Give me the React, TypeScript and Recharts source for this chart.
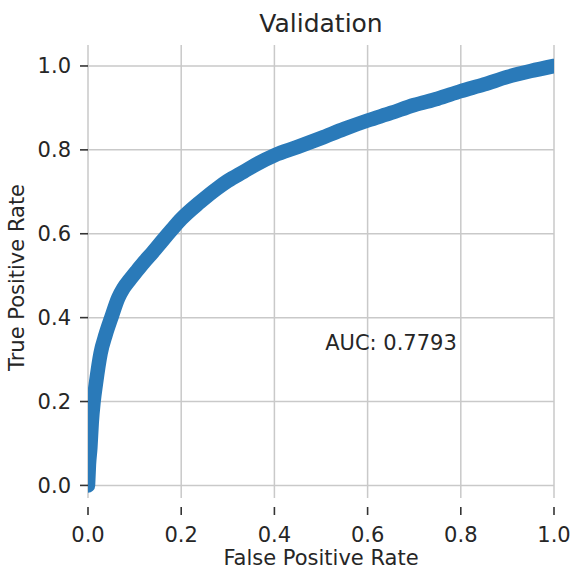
import React from 'react';
import { LineChart, Line, XAxis, YAxis, CartesianGrid, ReferenceDot } from 'recharts';

// ROC curve points
const fprValues = [0, 0.002, 0.005, 0.008, 0.012, 0.017, 0.027, 0.038, 0.05, 0.065, 0.076, 0.09, 0.103, 0.12, 0.139, 0.16, 0.18, 0.2, 0.24, 0.277, 0.3, 0.334, 0.36, 0.4, 0.45, 0.5, 0.55, 0.6, 0.65, 0.7, 0.75, 0.8, 0.85, 0.9, 0.95, 1.0];
const tprValues = [0, 0.05, 0.09, 0.15, 0.2, 0.243, 0.315, 0.36, 0.4, 0.447, 0.47, 0.491, 0.509, 0.532, 0.556, 0.584, 0.61, 0.635, 0.675, 0.708, 0.726, 0.748, 0.765, 0.787, 0.807, 0.828, 0.85, 0.87, 0.888, 0.907, 0.922, 0.94, 0.956, 0.974, 0.988, 1.0];

const xTicks = [0, 0.2, 0.4, 0.6, 0.8, 1.0];
const yTicks = [0, 0.2, 0.4, 0.6, 0.8, 1.0];

const titleText = 'Validation';
const xLabel = 'False Positive Rate';
const yLabel = 'True Positive Rate';
const aucText = 'AUC: 0.7793';
const aucPos = { x: 0.509, y: 0.323 };

const data = fprValues.map((f, i) => ({ fpr: f, tpr: tprValues[i] }));

const FONT = 'DejaVu Sans';
const TEXT_COLOR = '#262626';
const TICK_COLOR = '#333333';

const XTick = (props: any) => {
  const { x, y, payload } = props;
  return (
    <g>
      <line x1={x} x2={x} y1={y + 9} y2={y + 17} stroke={TICK_COLOR} strokeWidth={1.6} />
      <text x={x} y={y + 44} textAnchor="middle" fill={TEXT_COLOR} fontSize={21} fontFamily={FONT}>
        {Number(payload.value).toFixed(1)}
      </text>
    </g>
  );
};

export default function App() {
  return (
    <div style={{ position: 'absolute', left: 0, top: 0, width: 571, height: 572, background: '#fff' }}>
      <svg width={571} height={40} style={{ position: 'absolute', left: 0, top: 0 }}>
        <text x={321} y={32} textAnchor="middle" fontSize={25} fontFamily={FONT} fill={TEXT_COLOR}>
          {titleText}
        </text>
      </svg>
      <LineChart
        width={571}
        height={572}
        data={data}
        margin={{ top: 45, right: 17, bottom: 24, left: 8 }}
        style={{ position: 'absolute', left: 0, top: 0 }}
      >
        <CartesianGrid stroke="#c9c9c9" strokeWidth={1.5} horizontalValues={yTicks} verticalValues={xTicks} />
        <XAxis
          type="number"
          dataKey="fpr"
          domain={[0, 1]}
          ticks={xTicks}
          interval={0}
          allowDataOverflow
          axisLine={false}
          tickLine={false}
          tickSize={0}
          tickMargin={0}
          height={50}
          tick={<XTick />}
          label={(p: any) => {
            const vb = p.viewBox;
            return (
              <text x={vb.x + vb.width / 2} y={vb.y + 67} textAnchor="middle" fontSize={21} fontFamily={FONT} fill={TEXT_COLOR}>
                {xLabel}
              </text>
            );
          }}
        />
        <YAxis
          type="number"
          domain={[-0.03, 1.05]}
          ticks={yTicks}
          interval={0}
          allowDataOverflow
          axisLine={false}
          tickLine={{ stroke: TICK_COLOR, strokeWidth: 1.6 }}
          tickSize={8}
          tickMargin={9}
          width={80}
          tick={{ fill: TEXT_COLOR, fontSize: 21, fontFamily: FONT }}
          tickFormatter={(v: number) => v.toFixed(1)}
          label={(p: any) => {
            const vb = p.viewBox;
            const cx = 24;
            const cy = vb.y + vb.height / 2 + 6;
            return (
              <text x={cx} y={cy} transform={`rotate(-90 ${cx} ${cy})`} textAnchor="middle" fontSize={21} fontFamily={FONT} fill={TEXT_COLOR}>
                {yLabel}
              </text>
            );
          }}
        />
        <Line
          type="monotone"
          dataKey="tpr"
          stroke="#2a7ab9"
          strokeWidth={14.5}
          strokeLinecap="round"
          strokeLinejoin="round"
          dot={false}
          activeDot={false}
          isAnimationActive={false}
        />
        <ReferenceDot
          x={aucPos.x}
          y={aucPos.y}
          r={0}
          fill="none"
          stroke="none"
          label={(p: any) => {
            const vb = p.viewBox;
            return (
              <text x={vb.x} y={vb.y} textAnchor="start" fontSize={21} fontFamily={FONT} fill={TEXT_COLOR}>
                {aucText}
              </text>
            );
          }}
        />
      </LineChart>
    </div>
  );
}
